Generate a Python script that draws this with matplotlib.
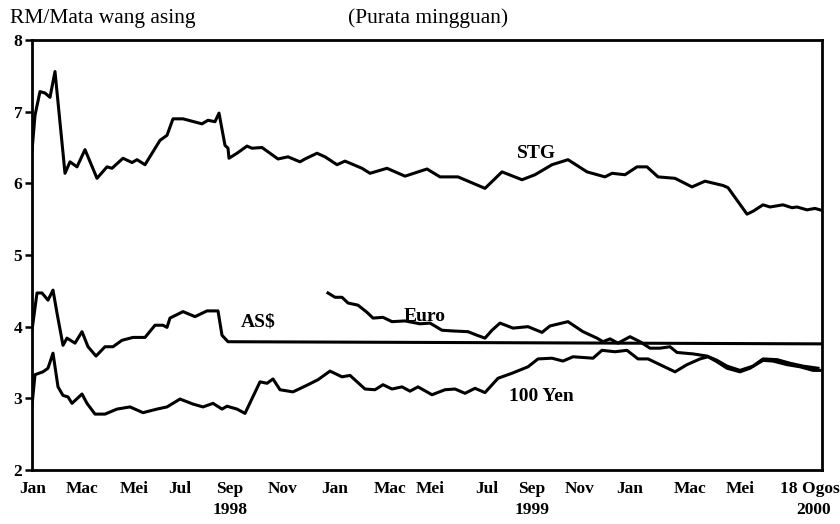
import matplotlib
matplotlib.use('Agg')
import matplotlib.pyplot as plt

plt.rcParams['font.family'] = ['Liberation Serif', 'DejaVu Serif']

# --- Data (x = months since start of Jan 1998, weekly averages) ---
stg_x = [0.0, 0.12, 0.32, 0.52, 0.72, 0.92, 1.32, 1.52, 1.8, 2.12, 2.6, 3.0, 3.2, 3.64,
         4.0, 4.2, 4.52, 5.12, 5.4, 5.64, 6.04, 6.8, 7.04, 7.32, 7.48, 7.72, 7.84, 7.88,
         8.2, 8.6, 8.8, 9.2, 9.84, 10.24, 10.72, 10.92, 11.4, 11.72, 12.2, 12.52, 13.2,
         13.52, 14.2, 14.92, 15.8, 16.32, 17.04, 18.12, 18.8, 19.6, 20.12, 20.8, 21.44,
         22.2, 22.92, 23.2, 23.72, 24.2, 24.6, 25.04, 25.72, 26.4, 26.92, 27.64, 27.84,
         28.6, 28.84, 29.24, 29.52, 30.04, 30.4, 30.6, 31.0, 31.32, 31.52]
stg_y = [6.45, 6.95, 7.28, 7.26, 7.2, 7.56, 6.14, 6.3, 6.23, 6.47, 6.07, 6.23, 6.21, 6.35,
         6.29, 6.33, 6.26, 6.6, 6.67, 6.9, 6.9, 6.83, 6.88, 6.86, 6.98, 6.53, 6.49, 6.35,
         6.42, 6.52, 6.49, 6.5, 6.34, 6.37, 6.3, 6.34, 6.42, 6.37, 6.26, 6.31, 6.21,
         6.14, 6.21, 6.1, 6.2, 6.09, 6.09, 5.93, 6.16, 6.05, 6.12, 6.26, 6.33,
         6.16, 6.09, 6.14, 6.12, 6.23, 6.23, 6.09, 6.07, 5.95, 6.03, 5.97, 5.94,
         5.57, 5.61, 5.7, 5.67, 5.7, 5.66, 5.67, 5.63, 5.65, 5.63]

usd_x = [0.0, 0.2, 0.4, 0.64, 0.84, 1.0, 1.24, 1.4, 1.72, 2.0, 2.24, 2.56, 2.92, 3.24,
         3.6, 4.04, 4.52, 4.92, 5.24, 5.4, 5.52, 6.04, 6.52, 7.0, 7.44, 7.6, 7.84, 31.6]
usd_y = [3.95, 4.47, 4.47, 4.37, 4.51, 4.19, 3.74, 3.84, 3.77, 3.93, 3.72, 3.59, 3.72, 3.72,
         3.81, 3.85, 3.85, 4.02, 4.02, 3.99, 4.12, 4.21, 4.14, 4.22, 4.22, 3.88, 3.79, 3.76]

euro_x = [11.84, 12.12, 12.4, 12.64, 13.04, 13.4, 13.64, 14.04, 14.4, 14.92, 15.52, 15.92,
          16.4, 16.84, 17.44, 17.8, 18.12, 18.4, 18.72, 19.24, 19.84, 20.4, 20.72, 21.44,
          22.04, 22.6, 22.84, 23.12, 23.44, 23.92, 24.32, 24.72, 25.12, 25.52, 25.8,
          26.44, 27.0, 27.4, 27.8, 28.32, 28.84, 29.24, 29.8, 30.32, 30.84, 31.44]
euro_y = [4.47, 4.41, 4.41, 4.33, 4.3, 4.2, 4.12, 4.13, 4.07, 4.08, 4.04, 4.05,
          3.95, 3.94, 3.93, 3.88, 3.84, 3.95, 4.05, 3.98, 4.0, 3.92, 4.01, 4.07,
          3.93, 3.84, 3.79, 3.83, 3.77, 3.86, 3.79, 3.7, 3.7, 3.72, 3.64,
          3.62, 3.59, 3.53, 3.45, 3.39, 3.45, 3.55, 3.54, 3.49, 3.45, 3.42]

yen_x = [0.0, 0.12, 0.44, 0.64, 0.84, 1.04, 1.24, 1.44, 1.6, 2.0, 2.2, 2.52, 2.92, 3.4,
         3.92, 4.44, 5.0, 5.4, 5.92, 6.44, 6.84, 7.24, 7.6, 7.8, 8.2, 8.52, 9.12, 9.4,
         9.64, 9.92, 10.44, 11.04, 11.44, 11.92, 12.4, 12.72, 13.32, 13.72, 14.04, 14.4,
         14.8, 15.12, 15.44, 16.0, 16.52, 16.92, 17.32, 17.72, 18.12, 18.64, 19.2, 19.84,
         20.24, 20.8, 21.24, 21.64, 22.44, 22.8, 23.32, 23.8, 24.24, 24.64, 25.12, 25.72,
         26.2, 26.72, 27.04, 27.4, 27.8, 28.32, 28.72, 29.24, 29.64, 30.2, 30.72, 31.24, 31.52]
yen_y = [2.9, 3.33, 3.37, 3.42, 3.63, 3.16, 3.04, 3.02, 2.93, 3.06, 2.93, 2.78, 2.78, 2.85,
         2.88, 2.8, 2.85, 2.88, 2.99, 2.92, 2.88, 2.93, 2.85, 2.89, 2.85, 2.79, 3.23, 3.21,
         3.27, 3.12, 3.09, 3.19, 3.26, 3.38, 3.3, 3.32, 3.13, 3.12, 3.19, 3.13,
         3.16, 3.1, 3.16, 3.05, 3.12, 3.13, 3.07, 3.14, 3.08, 3.28, 3.35, 3.44,
         3.55, 3.56, 3.52, 3.58, 3.56, 3.67, 3.65, 3.67, 3.55, 3.55, 3.47, 3.37,
         3.47, 3.55, 3.58, 3.51, 3.42, 3.37, 3.42, 3.53, 3.52, 3.47, 3.44, 3.39, 3.39]

tick_pos = [0.04, 2.0, 4.08, 5.92, 7.92, 10.04, 12.12, 14.32, 15.92, 18.2, 20.0,
            21.92, 23.92, 26.32, 28.32, 31.12]
tick_labels = ['Jan', 'Mac', 'Mei', 'Jul', 'Sep', 'Nov', 'Jan', 'Mac', 'Mei', 'Jul', 'Sep',
               'Nov', 'Jan', 'Mac', 'Mei', '18 Ogos']
year_pos = [7.92, 20.0, 31.28]
year_labels = ['1998', '1999', '2000']

fig = plt.figure(figsize=(8.4, 5.24), dpi=100)
ax = fig.add_axes([32 / 840, 1 - 470 / 524, 790 / 840, 430 / 524])

lw = 2.2
ax.plot(stg_x, stg_y, color='black', lw=lw, solid_joinstyle='round')
ax.plot(usd_x, usd_y, color='black', lw=lw, solid_joinstyle='round')
ax.plot(euro_x, euro_y, color='black', lw=lw, solid_joinstyle='round')
ax.plot(yen_x, yen_y, color='black', lw=lw, solid_joinstyle='round')

ax.set_xlim(0, 31.6)
ax.set_ylim(2, 8)
ax.set_yticks([2, 3, 4, 5, 6, 7, 8])
ax.set_xticks(tick_pos)
ax.set_xticklabels(tick_labels)
ax.tick_params(axis='y', direction='out', length=5, width=1.8, pad=2, labelsize=12.5)
ax.tick_params(axis='x', length=0, pad=8, labelsize=12.5)
for lab in ax.get_xticklabels() + ax.get_yticklabels():
    lab.set_fontweight('bold')

for sp in ax.spines.values():
    sp.set_linewidth(2.0)

for xp, yl in zip(year_pos, year_labels):
    ax.text(xp, -0.093, yl, transform=ax.get_xaxis_transform(), ha='center', va='center',
            fontsize=12.5, fontweight='bold')

# series labels
ax.text(20.16, 6.42, 'STG', ha='center', va='center', fontsize=14, fontweight='bold')
ax.text(9.04, 4.07, 'AS$', ha='center', va='center', fontsize=14, fontweight='bold')
ax.text(15.72, 4.14, 'Euro', ha='center', va='center', fontsize=14, fontweight='bold')
ax.text(20.36, 3.03, '100 Yen', ha='center', va='center', fontsize=14, fontweight='bold')

fig.text(10 / 840, 1 - 18 / 524, 'RM/Mata wang asing', ha='left', va='center', fontsize=15.5)
fig.text(348 / 840, 1 - 18 / 524, '(Purata mingguan)', ha='left', va='center', fontsize=15.5)

fig.savefig('out.png', dpi=100)
